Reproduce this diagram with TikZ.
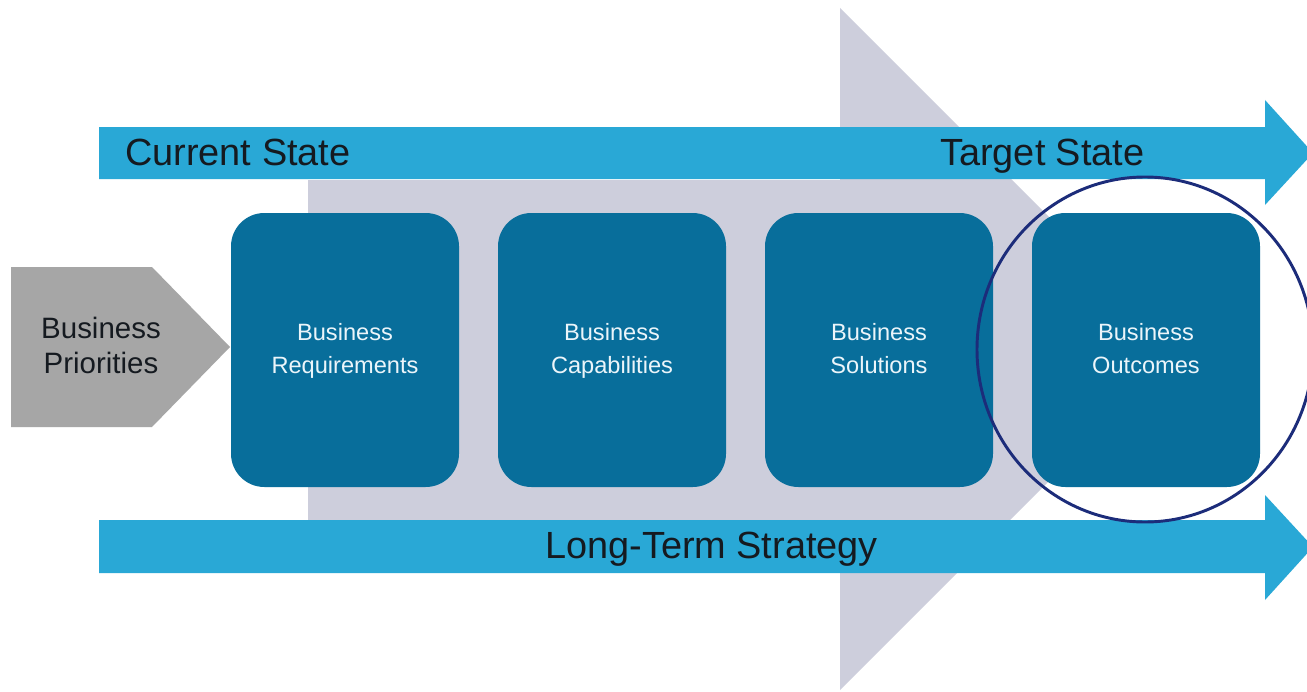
\documentclass[tikz,border=0pt]{standalone}
\usepackage{fontspec}
\setmainfont{Liberation Sans}
\definecolor{arrowblue}{RGB}{41,168,214}
\definecolor{boxblue}{RGB}{8,110,155}
\definecolor{lav}{RGB}{205,206,220}
\definecolor{pentgray}{RGB}{166,166,166}
\definecolor{ringblue}{RGB}{28,44,122}
\definecolor{darktext}{RGB}{21,26,32}
\definecolor{boxtext}{RGB}{235,245,250}
\tikzset{
  bandlabel/.style={anchor=base west, inner sep=0pt, text=darktext, font=\fontsize{28.4}{32}\selectfont},
  stagebox/.style={draw=none, fill=boxblue, rounded corners=25pt, minimum width=171pt, minimum height=205.5pt, inner sep=0pt, align=center, text=boxtext, font=\fontsize{17.7}{24.75}\selectfont},
  pentlabel/.style={inner sep=0pt, align=center, text=darktext, font=\fontsize{22.1}{26.25}\selectfont},
}
\begin{document}
\begin{tikzpicture}[x=0.75pt,y=-0.75pt]
\useasboundingbox (0,0) rectangle (1307,692);
\clip (0,0) rectangle (1307,692);
\fill[white] (0,0) rectangle (1307,692);
% big background arrow
\fill[lav] (308,180) -- (840,180) -- (840,8) -- (1181,349) -- (840,690) -- (840,520) -- (308,520) -- cycle;
% current / target state arrow
\fill[arrowblue] (99,127) -- (1265,127) -- (1265,100) -- (1313,153) -- (1265,205) -- (1265,179) -- (99,179) -- cycle;
% long-term strategy arrow
\fill[arrowblue] (99,520) -- (1265,520) -- (1265,495) -- (1313,547) -- (1265,600) -- (1265,573) -- (99,573) -- cycle;
\node[bandlabel] (cur) at (125,165) {Current State};
\node[bandlabel] (tgt) at (940,165) {Target State};
\node[bandlabel] (ltm) at (545,558) {Long-Term Strategy};
% business priorities pentagon
\fill[pentgray] (11,267) -- (152,267) -- (230,347) -- (152,427) -- (11,427) -- cycle;
\node[pentlabel] (prio) at (101,348.5) {\strut Business\\\strut Priorities};
% stage boxes
\node[stagebox] (req) at (345,350) {\strut Business\\\strut Requirements};
\node[stagebox] (cap) at (612,350) {\strut Business\\\strut Capabilities};
\node[stagebox] (sol) at (879,350) {\strut Business\\\strut Solutions};
\node[stagebox] (out) at (1146,350) {\strut Business\\\strut Outcomes};
% highlight ring
\draw[ringblue, line width=2.2pt] (1145,349.5) ellipse [x radius=168, y radius=172.5];
\end{tikzpicture}
\end{document}
